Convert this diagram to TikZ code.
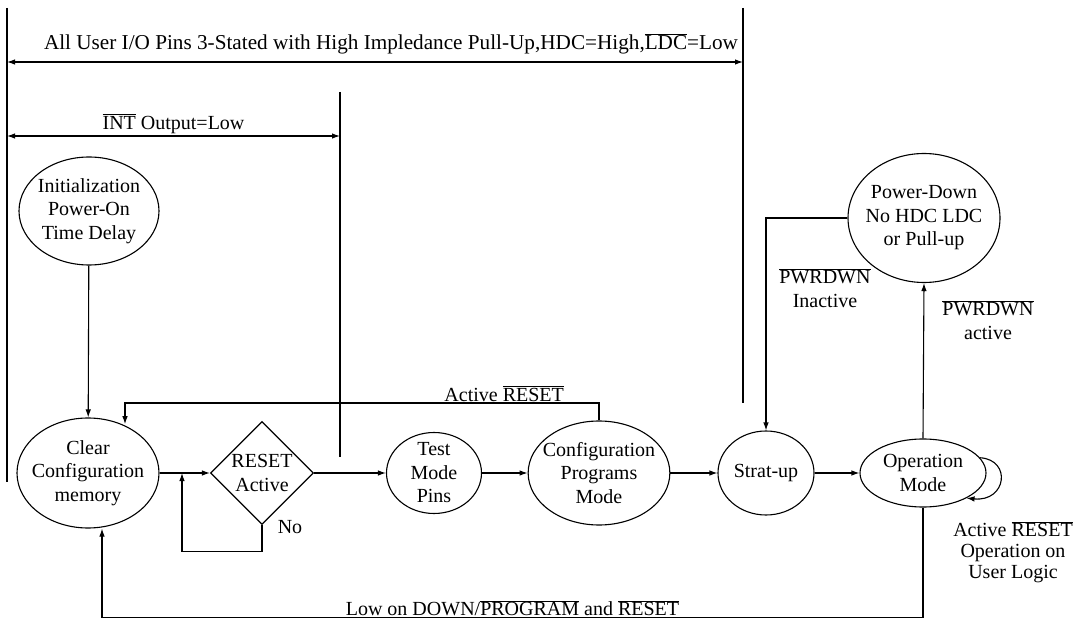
\documentclass[tikz,border=0pt]{standalone}
\usepackage{fontspec}
\setmainfont{Liberation Serif}
\usetikzlibrary{shapes.geometric,arrows.meta}

\newcommand{\ovl}[1]{$\overline{\mbox{#1}}$}

\begin{document}
\begin{tikzpicture}[
        x=1pt, y=-1pt,
        line width=1.1pt,
        every node/.style={font=\fontsize{20}{23.5}\selectfont, align=center, inner sep=1pt},
        state/.style={draw, ellipse, inner sep=-6pt},
        arr/.style={-{Latex[length=8pt,width=5.5pt]}},
        spanarr/.style={{Latex[length=8pt,width=5.5pt]}-{Latex[length=8pt,width=5.5pt]}}
    ]

    \useasboundingbox (0,0) rectangle (1085,628);

    % limits of the two ranges
    \coordinate (outerA) at (7,8);
    \coordinate (outerB) at (7,482);
    \coordinate (outerC) at (743,8);
    \coordinate (outerD) at (743,403);
    \coordinate (innerC) at (340,92);
    \coordinate (innerD) at (340,457);
    \draw (outerA) -- (outerB) (outerC) -- (outerD) (innerC) -- (innerD);

    \coordinate (topL) at (7,62);
    \coordinate (topR) at (743,62);
    \coordinate (intL) at (7,136);
    \coordinate (intR) at (340,136);
    \draw[spanarr] (topL) -- node[above=6pt, xshift=16pt, font=\fontsize{21.2}{25}\selectfont] {All User I/O Pins 3-Stated with High Impledance Pull-Up,HDC=High,\ovl{LDC}=Low} (topR);
    \draw[spanarr] (intL) -- node[above=1pt] {\ovl{INT} Output=Low} (intR);

    % states
    \node[state, minimum width=140, minimum height=108] (init) at (89,211) {Initialization\\Power-On\\Time Delay};
    \node[state, minimum width=142, minimum height=110] (clear) at (88,473) {Clear\\Configuration\\memory};
    \node[draw, diamond, inner sep=-8pt, minimum width=103, minimum height=103] (reset) at (262,473) {RESET\\Active};
    \node[state, minimum width=95, minimum height=81] (test) at (434,473) {Test\\Mode\\Pins};
    \node[state, minimum width=140, minimum height=104] (config) at (599,473) {Configuration\\Programs\\Mode};
    \node[state, minimum width=96, minimum height=84] (start) at (766,473) {Strat-up};
    \node[state, minimum width=126, minimum height=68] (oper) at (923,473) {Operation\\Mode};
    \node[state, minimum width=152, minimum height=129] (pdown) at (924,218) {Power-Down\\No HDC LDC\\or Pull-up};

    \node (no) at (290,527) {No};
    \node (inact) at (825,288) {\ovl{PWRDWN}\\Inactive};
    \node (act) at (988,320) {\ovl{PWRDWN}\\active};
    \node[font=\fontsize{20}{21}\selectfont] (userop) at (1013,552) {Active \ovl{RESET}\\Operation on\\User Logic};

    \coordinate (jn) at (182,473);
    \coordinate (rstc) at (125,403);

    \draw[arr] (init) -- (clear);
    \draw[arr] (clear.east) -- (reset.west);
    \draw[arr] (reset.south) -- ++(0,26) -| (jn);
    \draw[arr] (reset.east) -- (test.west);
    \draw[arr] (test.east) -- (config.west);
    \draw[arr] (config.east) -- (start.west);
    \draw[arr] (start.east) -- (oper.west);
    \draw[arr] (config.north) |- node[pos=0.6, above] {Active \ovl{RESET}} (rstc) -- (rstc |- clear.55);
    \draw[arr] (oper.15) .. controls +(32,2) and +(40,4) .. (oper.-30);
    \draw[arr] (oper.north) -- (pdown.south);
    \draw[arr] (pdown.west) -| (start.north);
    \draw[arr] (oper.south) -- ++(0,110) -| node[pos=0.25, above] {Low on DOWN/\ovl{PROGRAM} and \ovl{RESET}} ([xshift=14pt]clear.south);

\end{tikzpicture}
\end{document}
